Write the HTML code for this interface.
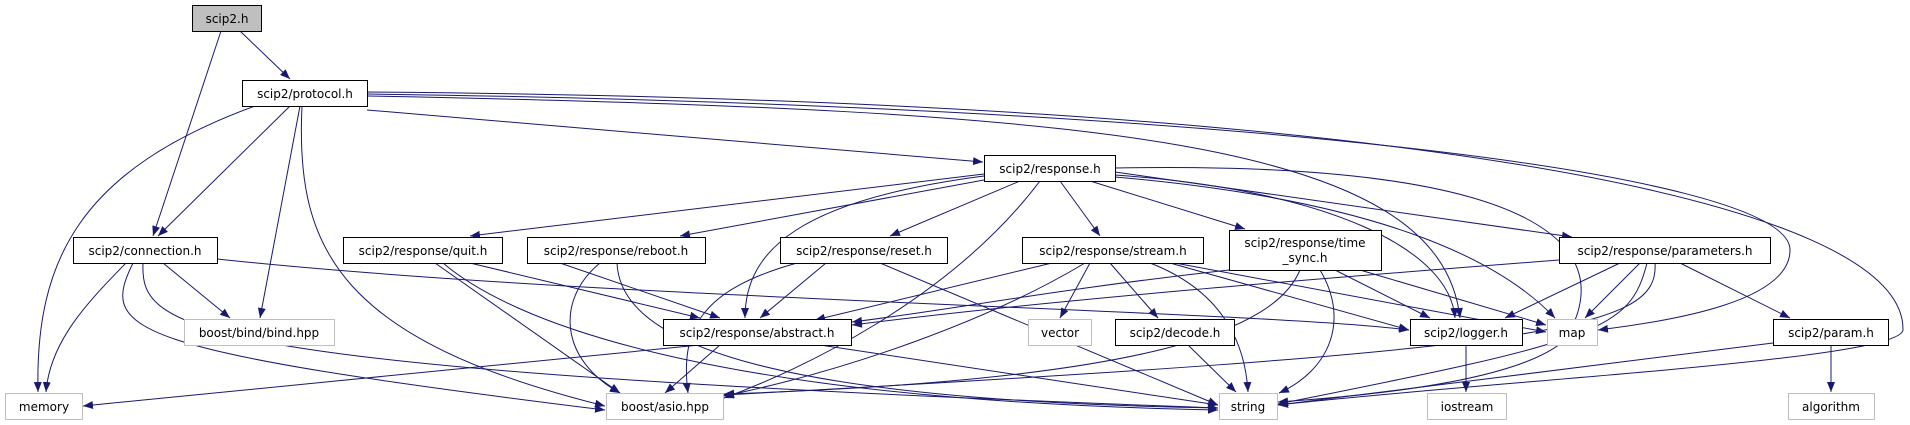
<!DOCTYPE html>
<html><head><meta charset="utf-8"><style>
html,body{margin:0;padding:0;background:#fff;}
svg{display:block;}
text{font-family:"DejaVu Sans","Liberation Sans",sans-serif;font-size:12px;fill:#000;}
</style></head><body>
<svg width="1910" height="425" viewBox="0 0 1910 425" xmlns="http://www.w3.org/2000/svg">
<defs><marker id="a" markerUnits="userSpaceOnUse" markerWidth="11" markerHeight="8" refX="10" refY="4" orient="auto"><path d="M0,0 L10,4 L0,8 z" fill="#191970"/></marker></defs>
<g fill="none" stroke="#191970" stroke-width="1" marker-end="url(#a)">
<path d="M240,31 L290,79"/>
<path d="M221,31 L153,236"/>
<path d="M290,106 L158,236"/>
<path d="M255,106 C80,170 35,260 38,392"/>
<path d="M300,106 L260,318"/>
<path d="M302,106 C295,250 340,340 605,406"/>
<path d="M367,110 L983,162"/>
<path d="M367,96 C1100,110 1440,140 1460,318"/>
<path d="M367,94 C1200,105 1790,170 1790,250 C1790,300 1680,320 1598,330"/>
<path d="M367,92 C1400,100 1905,200 1903,330 C1900,360 1500,380 1278,405"/>
<path d="M984,174 L470,236"/>
<path d="M984,180 L680,236"/>
<path d="M1020,181 L890,236"/>
<path d="M1060,181 L1100,236"/>
<path d="M1090,181 L1245,229"/>
<path d="M1115,172 L1572,237"/>
<path d="M984,176 C800,200 745,250 745,318"/>
<path d="M1040,181 C950,300 800,370 724,398"/>
<path d="M1115,175 C1330,190 1450,250 1455,318"/>
<path d="M1115,177 C1380,200 1500,260 1555,318"/>
<path d="M1115,168 C1550,160 1620,250 1565,340 C1520,380 1380,395 1278,402"/>
<path d="M126,263 C90,300 50,340 46,392"/>
<path d="M163,263 L230,318"/>
<path d="M133,263 C100,330 120,350 605,410"/>
<path d="M143,263 C140,330 180,370 1218,408"/>
<path d="M217,259 C600,300 1250,310 1409,330"/>
<path d="M470,263 L700,318"/>
<path d="M435,263 L620,393"/>
<path d="M443,263 C510,320 700,400 1218,410"/>
<path d="M560,263 L720,318"/>
<path d="M600,263 C555,300 560,360 620,393"/>
<path d="M617,263 C620,330 720,400 1218,408"/>
<path d="M826,263 L760,318"/>
<path d="M797,263 C700,290 680,330 688,393"/>
<path d="M880,263 L1218,405"/>
<path d="M1052,263 L815,320"/>
<path d="M1085,263 C990,320 850,370 724,396"/>
<path d="M1090,263 L1060,318"/>
<path d="M1110,263 L1158,318"/>
<path d="M1150,263 C1220,290 1245,340 1248,392"/>
<path d="M1170,263 L1409,330"/>
<path d="M1175,263 L1546,332"/>
<path d="M1229,270 C1050,290 950,310 852,322"/>
<path d="M1300,270 C1275,330 1150,380 724,394"/>
<path d="M1320,270 C1350,320 1330,370 1279,393"/>
<path d="M1335,270 L1430,318"/>
<path d="M1360,270 L1546,325"/>
<path d="M1559,260 C1300,280 1050,300 852,325"/>
<path d="M1620,263 L1505,318"/>
<path d="M1640,263 L1585,318"/>
<path d="M1647,263 C1630,330 1600,340 1278,404"/>
<path d="M1655,263 C1660,330 1550,350 724,395"/>
<path d="M1680,263 L1790,318"/>
<path d="M1773,343 L1278,405"/>
<path d="M1831,345 L1831,392"/>
<path d="M1188,345 L1236,392"/>
<path d="M700,345 L83,406"/>
<path d="M720,345 L665,393"/>
<path d="M820,345 L1218,405"/>
<path d="M1466,345 L1466,392"/>
</g>
<g stroke-width="1">
<rect x="192.5" y="5.5" width="69" height="26" fill="#bfbfbf" stroke="#000"/>
<rect x="242.5" y="80.5" width="125" height="26" fill="#fff" stroke="#000"/>
<rect x="73.5" y="237.5" width="144" height="26" fill="#fff" stroke="#000"/>
<rect x="184.5" y="319.5" width="150" height="26" fill="#fff" stroke="#bfbfbf"/>
<rect x="5.5" y="393.5" width="77" height="26" fill="#fff" stroke="#bfbfbf"/>
<rect x="343.5" y="237.5" width="159" height="26" fill="#fff" stroke="#000"/>
<rect x="527.5" y="237.5" width="178" height="26" fill="#fff" stroke="#000"/>
<rect x="780.5" y="237.5" width="167" height="26" fill="#fff" stroke="#000"/>
<rect x="984.5" y="155.5" width="131" height="26" fill="#fff" stroke="#000"/>
<rect x="663.5" y="319.5" width="188" height="26" fill="#fff" stroke="#000"/>
<rect x="606.5" y="393.5" width="117" height="26" fill="#fff" stroke="#bfbfbf"/>
<rect x="1028.5" y="319.5" width="63" height="26" fill="#fff" stroke="#bfbfbf"/>
<rect x="1115.5" y="319.5" width="119" height="26" fill="#fff" stroke="#000"/>
<rect x="1219.5" y="393.5" width="58" height="26" fill="#fff" stroke="#bfbfbf"/>
<rect x="1022.5" y="237.5" width="181" height="26" fill="#fff" stroke="#000"/>
<rect x="1229.5" y="230.5" width="152" height="40" fill="#fff" stroke="#000"/>
<rect x="1559.5" y="237.5" width="211" height="26" fill="#fff" stroke="#000"/>
<rect x="1410.5" y="319.5" width="112" height="26" fill="#fff" stroke="#000"/>
<rect x="1547.5" y="319.5" width="50" height="26" fill="#fff" stroke="#bfbfbf"/>
<rect x="1773.5" y="319.5" width="115" height="26" fill="#fff" stroke="#000"/>
<rect x="1427.5" y="393.5" width="79" height="26" fill="#fff" stroke="#bfbfbf"/>
<rect x="1788.5" y="393.5" width="86" height="26" fill="#fff" stroke="#bfbfbf"/>
</g>
<g text-anchor="middle">
<text x="227" y="23">scip2.h</text>
<text x="305" y="98">scip2/protocol.h</text>
<text x="145" y="255">scip2/connection.h</text>
<text x="259" y="337">boost/bind/bind.hpp</text>
<text x="44" y="411">memory</text>
<text x="423" y="255">scip2/response/quit.h</text>
<text x="616" y="255">scip2/response/reboot.h</text>
<text x="864" y="255">scip2/response/reset.h</text>
<text x="1050" y="173">scip2/response.h</text>
<text x="757" y="337">scip2/response/abstract.h</text>
<text x="665" y="411">boost/asio.hpp</text>
<text x="1060" y="337">vector</text>
<text x="1175" y="337">scip2/decode.h</text>
<text x="1248" y="411">string</text>
<text x="1113" y="255">scip2/response/stream.h</text>
<text x="1305" y="247">scip2/response/time</text>
<text x="1305" y="262">_sync.h</text>
<text x="1665" y="255">scip2/response/parameters.h</text>
<text x="1466" y="337">scip2/logger.h</text>
<text x="1572" y="337">map</text>
<text x="1831" y="337">scip2/param.h</text>
<text x="1467" y="411">iostream</text>
<text x="1831" y="411">algorithm</text>
</g>
</svg>
</body></html>
